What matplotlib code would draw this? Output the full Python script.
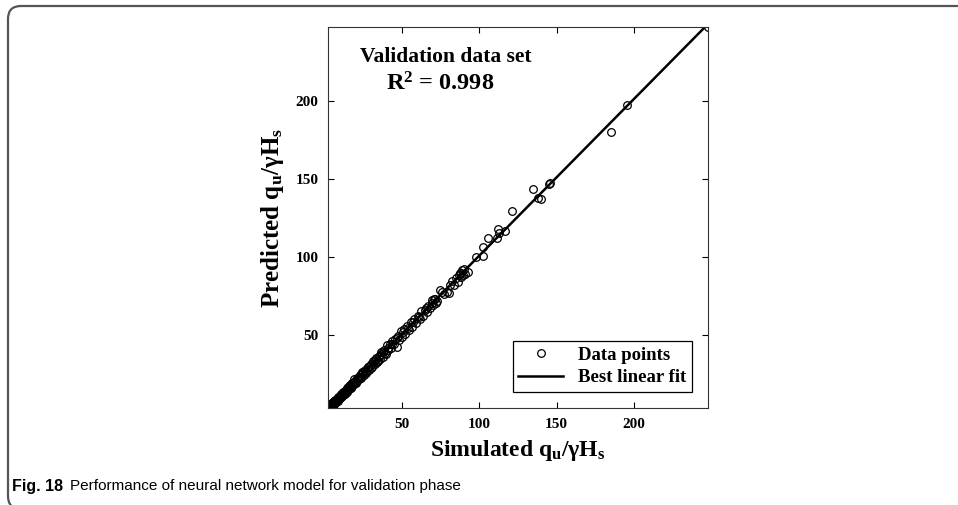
import numpy as np
import matplotlib
matplotlib.use("Agg")
import matplotlib.pyplot as plt
from matplotlib.patches import FancyBboxPatch

plt.rcParams['font.family'] = ['Liberation Serif', 'DejaVu Serif']
plt.rcParams['font.weight'] = 'bold'
plt.rcParams['mathtext.fontset'] = 'custom'
plt.rcParams['mathtext.rm'] = 'Liberation Serif:bold'
plt.rcParams['mathtext.it'] = 'Liberation Serif:bold'
plt.rcParams['mathtext.bf'] = 'Liberation Serif:bold'

# simulated vs predicted qu/gammaHs (validation set)
simulated = [2.2, 2.5, 2.9, 3.1, 3.4, 3.8, 4.1, 4.4, 4.8, 5.1, 5.5, 5.9, 6.2, 6.6, 7.0,
             7.3, 7.9, 8.3, 8.8, 9.2, 9.7, 10.3, 10.9, 11.4, 12.0, 12.6, 13.3, 13.9,
             14.6, 15.3, 16.1, 16.8, 17.6, 18.4, 19.2, 20.0, 20.9, 21.7, 22.6, 23.5,
             24.4, 25.2, 26.1, 27.0, 27.9, 28.8, 29.7, 30.5, 31.4, 32.3, 33.2, 34.0,
             34.9, 35.8, 36.7, 37.6, 38.5, 39.4, 40.2, 41.1, 42.0, 42.9, 43.8, 44.7,
             45.6, 46.8, 47.4, 48.3, 49.2, 50.1, 51.0, 52.2, 53.3, 54.5, 55.6, 56.8,
             58.0, 59.2, 60.3, 61.5, 62.6, 63.8, 64.9, 66.1, 67.0, 68.2, 69.1, 70.0,
             70.9, 71.8, 72.7, 74.6, 75.8, 77.2, 79.0, 80.3, 81.2, 82.4, 83.6, 84.8,
             86.1, 87.3, 87.9, 88.6, 89.2, 89.9, 90.6, 92.7, 97.8, 102.4, 102.4,
             105.6, 111.4, 112.1, 112.7, 116.6, 121.1, 134.7, 137.9, 139.9, 145.2,
             145.7, 185.1, 195.5, 247.8,
             3.6, 4.9, 6.9, 9.5, 11.8, 14.2, 16.5, 18.9, 21.3, 24.0, 26.5, 29.1, 31.9,
             35.1, 38.0, 40.8, 43.3, 47.0, 50.6, 53.9, 57.4, 60.9, 65.5, 69.6, 71.3,
             86.7, 88.4,
             2.4, 2.7, 3.3, 3.9, 4.2, 4.6, 5.3, 5.7, 6.4, 7.2, 7.6, 8.1, 8.6, 9.0, 9.9,
             10.6, 11.2, 12.3, 13.0, 13.6, 14.4, 15.0, 15.8, 16.4, 17.2, 18.0, 19.5,
             20.4, 22.0, 23.0, 25.0, 26.8, 28.2, 30.1, 32.8, 34.4, 36.2, 39.0]
predicted = [3.0, 4.1, 3.3, 5.0, 4.6, 3.9, 5.4, 4.2, 6.1, 5.0, 6.6, 5.4, 7.3, 6.2, 8.0,
             7.1, 9.0, 7.8, 9.9, 8.6, 10.8, 9.8, 12.0, 11.0, 13.1, 12.0, 14.2, 13.4,
             15.8, 14.6, 17.2, 16.0, 18.9, 17.5, 21.3, 19.0, 22.4, 20.8, 23.9, 22.5,
             25.8, 24.0, 27.6, 26.1, 29.4, 27.5, 31.0, 29.3, 33.0, 31.0, 35.1, 32.6,
             36.4, 34.2, 38.9, 35.8, 40.3, 37.6, 43.6, 39.9, 44.2, 41.5, 45.7, 43.9,
             47.5, 42.1, 48.9, 46.4, 52.1, 48.7, 53.6, 50.4, 55.4, 53.0, 57.9, 55.2,
             60.1, 57.6, 62.0, 59.9, 65.4, 62.1, 65.9, 64.4, 68.3, 66.8, 72.4, 68.9,
             72.9, 70.2, 71.5, 78.7, 77.6, 75.9, 77.3, 76.5, 81.8, 84.6, 82.0, 86.5,
             83.9, 89.4, 86.8, 91.6, 88.0, 92.3, 89.1, 90.2, 99.8, 100.5, 106.2,
             112.0, 112.0, 117.8, 115.3, 116.5, 129.2, 143.4, 137.6, 137.0, 146.6,
             147.2, 179.9, 197.2, 247.2,
             3.2, 4.5, 6.4, 9.7, 12.4, 14.9, 17.8, 19.6, 22.0, 24.9, 26.9, 30.2, 32.4,
             35.9, 38.9, 41.7, 44.0, 47.6, 51.4, 54.1, 58.3, 61.2, 66.8, 70.5, 73.0,
             88.2, 89.8,
             3.5, 3.1, 4.4, 4.8, 3.6, 5.6, 4.7, 6.9, 5.8, 7.9, 6.9, 8.8, 7.7, 10.1, 9.2,
             11.5, 10.4, 13.0, 12.1, 14.6, 13.5, 16.2, 15.1, 17.6, 16.5, 18.8, 20.4,
             19.5, 23.1, 22.1, 26.2, 25.6, 29.4, 28.9, 34.0, 33.2, 37.5, 38.2]
ticks = [50, 100, 150, 200]

x = np.array(simulated)
y = np.array(predicted)
slope, intercept = np.polyfit(x, y, 1)
xf = np.array([x.min(), x.max()])

fig = plt.figure(figsize=(9.58, 5.05), dpi=100)

# caption frame (rounded, open to the right and bottom)
frame = FancyBboxPatch((0.08, -0.04), 10.0, 5.05 - 0.06 + 0.04,
                       boxstyle="round,pad=0,rounding_size=0.13",
                       transform=fig.dpi_scale_trans, fill=False,
                       edgecolor='#555555', linewidth=1.6, clip_on=False)
fig.patches.append(frame)

ax = fig.add_axes([328 / 958, (505 - 408) / 505, 380 / 958, 381 / 505])
ax.plot(x, y, 'o', mfc='none', mec='black', ms=5.5, mew=0.9, label='Data points')
ax.plot(xf, slope * xf + intercept, '-', color='black', lw=1.8, label='Best linear fit')

ax.set_xlim(x.min(), x.max())
ax.set_ylim(y.min(), y.max())
ax.set_xticks(ticks)
ax.set_yticks(ticks)
ax.tick_params(direction='in', length=4, width=0.8, top=True, right=True,
               labelsize=11, pad=7)
for lab in ax.get_xticklabels() + ax.get_yticklabels():
    lab.set_fontweight('bold')
for s in ax.spines.values():
    s.set_linewidth(0.8)
    s.set_color('#333333')

ax.set_xlabel(r'Simulated $\mathrm{q_u/\gamma H_s}$', fontsize=17, fontweight='bold', labelpad=5)
ax.set_ylabel(r'Predicted $\mathrm{q_u/\gamma H_s}$', fontsize=18, fontweight='bold', labelpad=7)

ax.text(0.31, 0.921, 'Validation data set', transform=ax.transAxes,
        ha='center', va='center', fontsize=15.5, fontweight='bold')
ax.text(0.295, 0.85, r'R$^{\mathbf{2}}$ = 0.998', transform=ax.transAxes,
        ha='center', va='center', fontsize=17.5, fontweight='bold')

leg = ax.legend(loc='lower right', fontsize=13.5, fancybox=False, framealpha=1,
                edgecolor='black', borderpad=0.3, handlelength=2.4,
                labelspacing=0.3, borderaxespad=0.85)
leg.get_frame().set_linewidth(0.9)
for t in leg.get_texts():
    t.set_fontweight('bold')

cap_family = ['Liberation Sans Narrow', 'Liberation Sans']
fig.text(12 / 958, 1 - 486 / 505, 'Fig. 18', fontsize=11.5, fontweight='bold',
         family=cap_family, va='center')
fig.text(70 / 958, 1 - 486 / 505,
         'Performance of neural network model for validation phase', fontsize=11,
         fontweight='normal', family=cap_family, va='center')

fig.savefig('out.png', dpi=100)
